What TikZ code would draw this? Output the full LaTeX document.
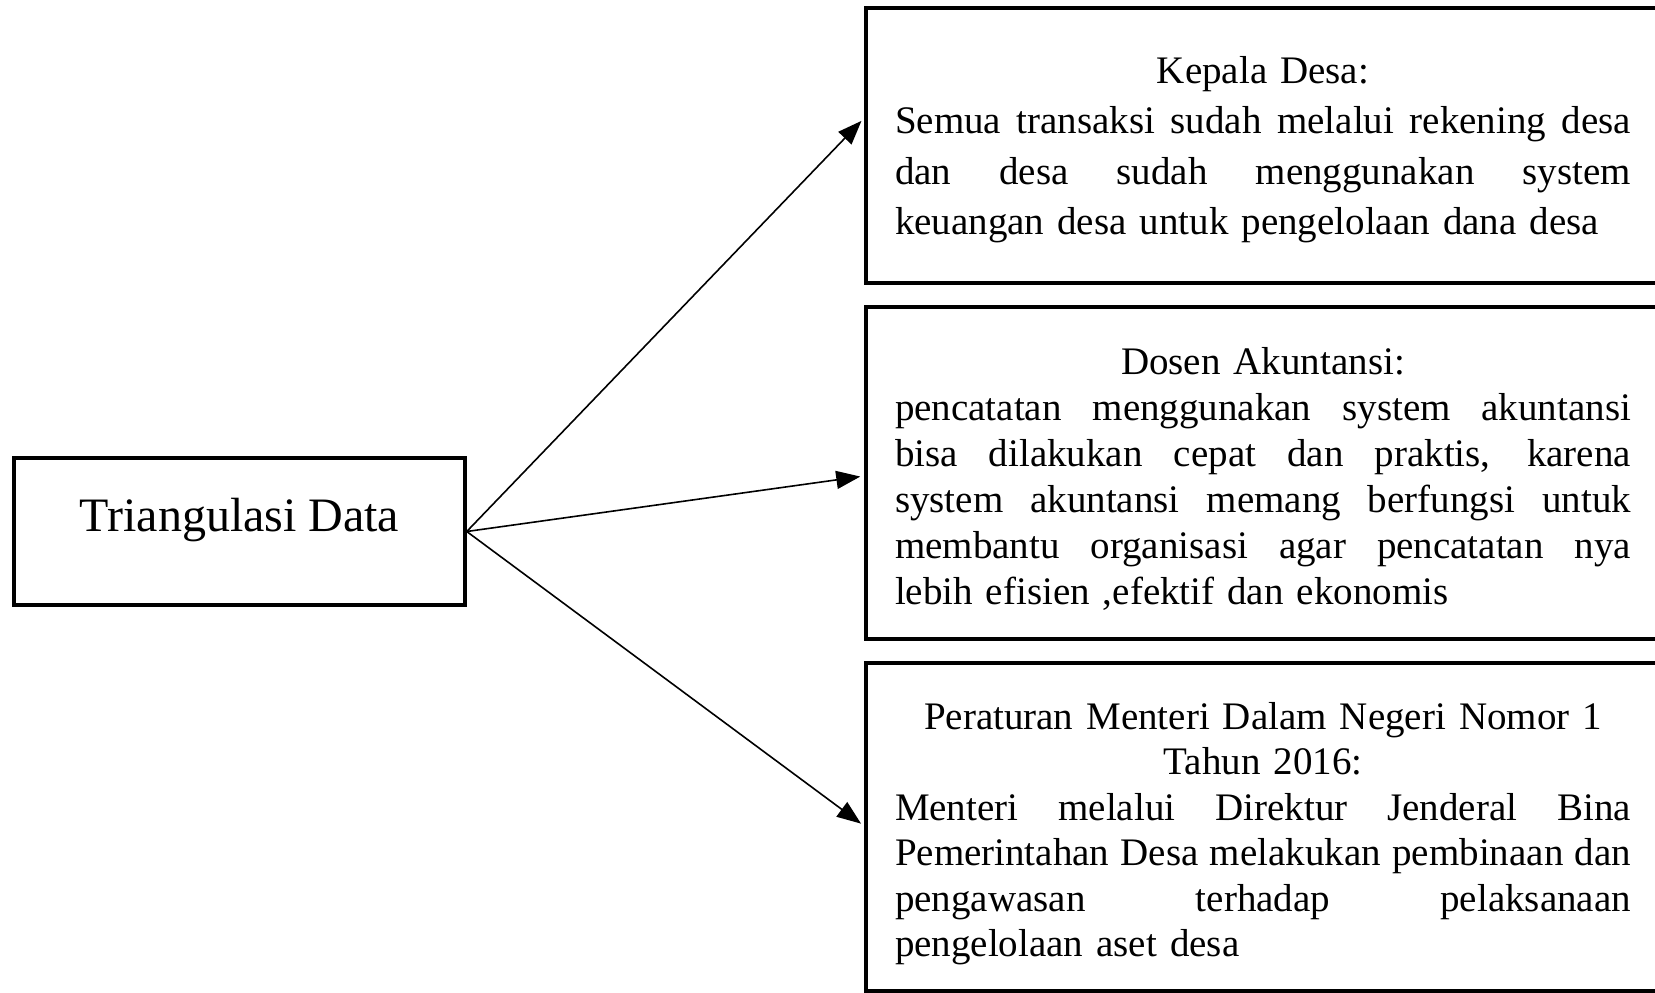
\documentclass[tikz,border=0pt]{standalone}
\usepackage{fontspec}
\setmainfont{Liberation Serif}
\usetikzlibrary{arrows.meta}

% width of the text column inside the right-hand boxes
\newlength\colw
\setlength\colw{736pt}
% a line stretched to the full column width (justified)
\newcommand{\justln}[1]{\leavevmode\hbox to\colw{\spaceskip=0.25em plus 1fil minus 0.1em\relax #1}}
% a line centred in the column; the optional argument is the height of a top strut
\newcommand{\centln}[2][0pt]{\makebox[\colw][c]{\rule{0pt}{#1}#2}}

\begin{document}
\begin{tikzpicture}[x=1pt,y=-1pt,
  box/.style={draw=black,line width=3.5pt,rectangle,inner sep=0pt},
  infobox/.style={box,text width=\colw,inner xsep=29pt,inner ysep=0pt,
    minimum width=794pt,align=left},
  arr/.style={-{Triangle[length=24pt,width=18pt]},line width=1.6pt,shorten >=4pt}]
  \useasboundingbox (0,0) rectangle (1655,993);

  % source box
  \node[box,minimum width=451pt,minimum height=147pt,
        text height=22pt,text depth=22pt,
        font=\fontsize{48}{56}\selectfont] (lt) at (239.5,531.5) {Triangulasi Data};

  % the three sources of evidence
  \node[infobox,minimum height=275pt,font=\fontsize{39}{50.5}\selectfont] (kd) at (1263,145.5) {%
    \centln[35pt]{Kepala Desa:}\\
    \justln{Semua transaksi sudah melalui rekening desa}\\
    \justln{dan desa sudah menggunakan system}\\
    keuangan desa untuk pengelolaan dana desa};

  \node[infobox,minimum height=332pt,font=\fontsize{39}{46}\selectfont] (da) at (1263,473) {%
    \centln[38pt]{Dosen Akuntansi:}\\
    \justln{pencatatan menggunakan system akuntansi}\\
    \justln{bisa dilakukan cepat dan praktis, karena}\\
    \justln{system akuntansi memang berfungsi untuk}\\
    \justln{membantu organisasi agar pencatatan nya}\\
    lebih efisien ,efektif dan ekonomis};

  \node[infobox,minimum height=328pt,font=\fontsize{39}{45.4}\selectfont] (pm) at (1263,827) {%
    \centln[40.5pt]{Peraturan Menteri Dalam Negeri Nomor 1}\\
    \centln{Tahun 2016:}\\
    \justln{Menteri melalui Direktur Jenderal Bina}\\
    \justln{Pemerintahan Desa melakukan pembinaan dan}\\
    \justln{pengawasan terhadap pelaksanaan}\\
    pengelolaan aset desa};

  % connectors
  \draw[arr] (lt.east) -- ([yshift=27.5pt]kd.west);
  \draw[arr] (lt.east) -- ([yshift=-3pt]da.west);
  \draw[arr] (lt.east) -- ([yshift=1pt]pm.west);
\end{tikzpicture}
\end{document}
